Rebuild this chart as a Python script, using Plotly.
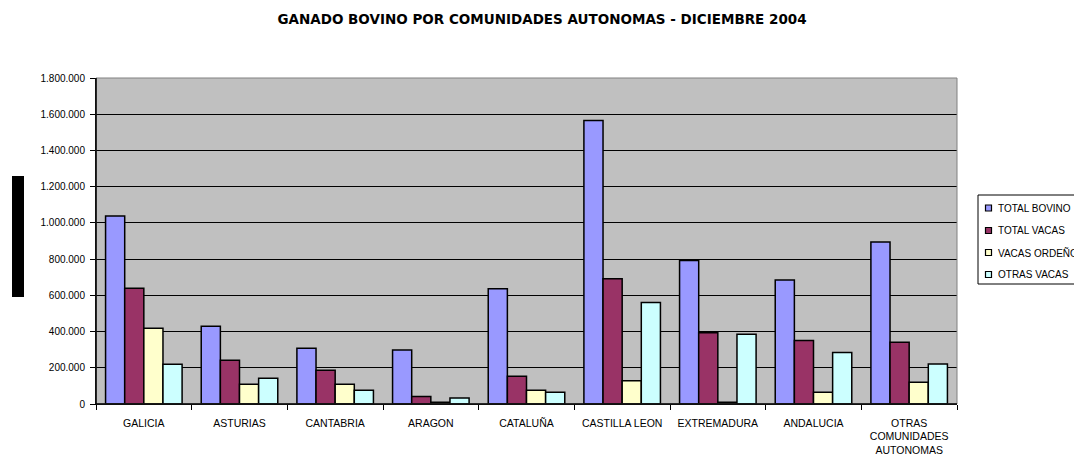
import plotly.graph_objects as go

categories = ["GALICIA", "ASTURIAS", "CANTABRIA", "ARAGON", "CATALUÑA",
              "CASTILLA LEON", "EXTREMADURA", "ANDALUCIA",
              "OTRAS<br>COMUNIDADES<br>AUTONOMAS"]
total_bovino = [1038000, 429000, 308000, 298000, 637000, 1566000, 793000, 685000, 895000]
total_vacas = [639000, 241000, 186000, 42000, 153000, 692000, 394000, 350000, 341000]
vacas_ordeno = [418000, 109000, 109000, 9000, 76000, 129000, 9000, 65000, 120000]
otras_vacas = [219000, 142000, 76000, 33000, 65000, 561000, 385000, 285000, 221000]

series_names = ["TOTAL BOVINO", "TOTAL VACAS", "VACAS ORDEÑO", "OTRAS VACAS"]
series_values = [total_bovino, total_vacas, vacas_ordeno, otras_vacas]
colors = ["#9999FF", "#993366", "#FFFFCC", "#CCFFFF"]

# figure geometry (page is offset by the 8px body margin)
W, H = 1074, 458
ML, MR, MT, MB = 88, 125, 70, 62
PW, PH = W - ML - MR, H - MT - MB


def px(page_x):
    return (page_x - 8 - ML) / PW


def py(page_y):
    return (H - MB - (page_y - 8)) / PH


fig = go.Figure()
for name, vals, col in zip(series_names, series_values, colors):
    fig.add_trace(go.Bar(
        x=categories, y=vals, name=name, showlegend=False,
        marker=dict(color=col, line=dict(color="black", width=1.5)),
    ))

shapes = [
    dict(type="rect", xref="paper", yref="paper", x0=0, x1=1, y0=0, y1=1,
         line=dict(color="#808080", width=1), fillcolor="rgba(0,0,0,0)", layer="above"),
    dict(type="line", xref="paper", yref="paper", x0=0, x1=0, y0=0, y1=1,
         line=dict(color="black", width=1.5), layer="above"),
    dict(type="line", xref="paper", yref="paper", x0=0, x1=1, y0=0, y1=0,
         line=dict(color="black", width=1.5), layer="above"),
    dict(type="rect", xref="paper", yref="paper",
         x0=px(12), x1=px(24), y0=py(297), y1=py(176),
         line=dict(width=0), fillcolor="black"),
    # legend box
    dict(type="rect", xref="paper", yref="paper",
         x0=px(978), x1=px(1095), y0=py(284), y1=py(195),
         line=dict(color="black", width=1), fillcolor="white"),
]
annotations = []
legend_rows = [208, 230.5, 252.5, 274.5]
for name, col, ry in zip(series_names, colors, legend_rows):
    shapes.append(dict(type="rect", xref="paper", yref="paper",
                       x0=px(985.5), x1=px(991.5), y0=py(ry + 3), y1=py(ry - 3),
                       line=dict(color="black", width=1.2), fillcolor=col))
    annotations.append(dict(xref="paper", yref="paper", x=px(996), y=py(ry),
                            xanchor="left", yanchor="middle", showarrow=False,
                            text=name, font=dict(size=10, color="black")))

fig.update_layout(
    width=W, height=H,
    margin=dict(l=ML, r=MR, t=MT, b=MB, autoexpand=False),
    paper_bgcolor="white",
    plot_bgcolor="#C0C0C0",
    barmode="group",
    bargap=0.2,
    bargroupgap=0,
    separators=",.",
    showlegend=False,
    font=dict(family="Liberation Sans, Arial, sans-serif", size=10, color="black"),
    title=dict(
        text="<b>GANADO BOVINO POR COMUNIDADES AUTONOMAS - DICIEMBRE 2004</b>",
        x=px(542), xref="paper", xanchor="center",
        y=1 - 11 / H, yref="container", yanchor="middle",
        font=dict(family="DejaVu Sans, Liberation Sans, sans-serif", size=13.5, color="black"),
    ),
    xaxis=dict(
        showline=True, linecolor="black", linewidth=1,
        ticks="outside", tickson="boundaries", ticklen=5, tickcolor="black",
        showgrid=False,
        tickfont=dict(size=10.5),
        ticklabelstandoff=9,
    ),
    yaxis=dict(
        range=[0, 1800000], dtick=200000, tickformat=",d",
        showline=True, linecolor="black", linewidth=1,
        ticks="outside", ticklen=5, tickcolor="black",
        showgrid=True, gridcolor="black", gridwidth=1,
        zeroline=False,
        tickfont=dict(size=10),
        ticklabelstandoff=3,
    ),
    shapes=shapes,
    annotations=annotations,
)

fig.write_html("out.html")
